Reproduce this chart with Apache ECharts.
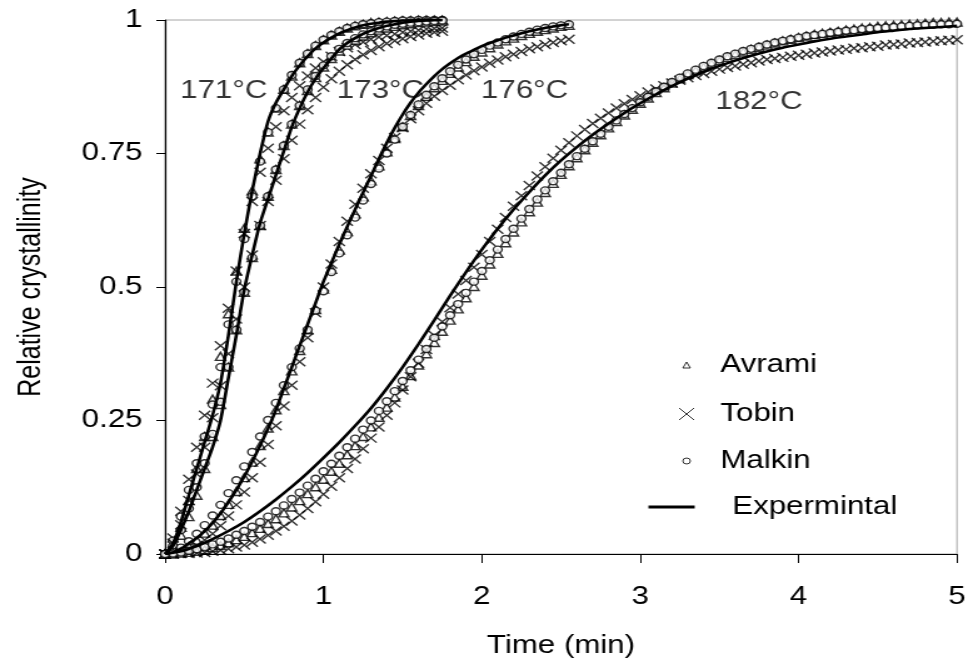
<!DOCTYPE html>
<html>
<head>
<meta charset="utf-8">
<title>Relative crystallinity vs time</title>
<script src="https://cdn.jsdelivr.net/npm/echarts@6/dist/echarts.min.js"></script>
<style>
  html, body { margin: 0; padding: 0; background: #fff; overflow: hidden; }
  #wrap { width: 973px; height: 664px; overflow: hidden; }
  /* the figure is laid out on a narrower canvas and widened horizontally */
  #chart { width: 778px; height: 664px; transform: scaleX(1.2506); transform-origin: 0 0; }
</style>
</head>
<body>
<div id="wrap"><div id="chart"></div></div>
<script>
// ---- time grids (min) ----
const timeFast = [0,0.05,0.1,0.15,0.2,0.25,0.3,0.35,0.4,0.45,0.5,0.55,0.6,0.65,0.7,0.75,0.8,0.85,0.9,0.95,
  1,1.05,1.1,1.15,1.2,1.25,1.3,1.35,1.4,1.45,1.5,1.55,1.6,1.65,1.7,1.75];
const time176 = [0,0.05,0.1,0.15,0.2,0.25,0.3,0.35,0.4,0.45,0.5,0.55,0.6,0.65,0.7,0.75,0.8,0.85,0.9,0.95,
  1,1.05,1.1,1.15,1.2,1.25,1.3,1.35,1.4,1.45,1.5,1.55,1.6,1.65,1.7,1.75,1.8,1.85,1.9,1.95,
  2,2.05,2.1,2.15,2.2,2.25,2.3,2.35,2.4,2.45,2.5,2.55];
const time182 = [0,0.05,0.1,0.15,0.2,0.25,0.3,0.35,0.4,0.45,0.5,0.55,0.6,0.65,0.7,0.75,0.8,0.85,0.9,0.95,
  1,1.05,1.1,1.15,1.2,1.25,1.3,1.35,1.4,1.45,1.5,1.55,1.6,1.65,1.7,1.75,1.8,1.85,1.9,1.95,
  2,2.05,2.1,2.15,2.2,2.25,2.3,2.35,2.4,2.45,2.5,2.55,2.6,2.65,2.7,2.75,2.8,2.85,2.9,2.95,
  3,3.05,3.1,3.15,3.2,3.25,3.3,3.35,3.4,3.45,3.5,3.55,3.6,3.65,3.7,3.75,3.8,3.85,3.9,3.95,
  4,4.05,4.1,4.15,4.2,4.25,4.3,4.35,4.4,4.45,4.5,4.55,4.6,4.65,4.7,4.75,4.8,4.85,4.9,4.95,5];
const time182Exp = [0,0.1,0.2,0.3,0.4,0.5,0.6,0.7,0.8,0.9,1,1.1,1.2,1.3,1.4,1.5,1.6,1.7,1.8,1.9,
  2,2.1,2.2,2.3,2.4,2.5,2.6,2.7,2.8,2.9,3,3.1,3.2,3.3,3.4,3.5,3.6,3.7,3.8,3.9,
  4,4.1,4.2,4.3,4.4,4.5,4.6,4.7,4.8,4.9,5];

// ---- 171 °C ----
const exp171 = [0,.02,.06,.11,.16,.21,.26,.32,.41,.51,.60,.68,.75,.81,.845,.87,.895,.915,.932,.947,
  .958,.967,.975,.981,.986,.99,.993,.995,.997,.998,.999,.999,1,1,1,1];
const avrami171 = [0,.015,.05,.10,.16,.22,.29,.37,.45,.53,.61,.68,.74,.79,.835,.87,.895,.92,.937,.952,
  .963,.972,.979,.985,.989,.992,.995,.996,.997,.998,.999,.999,1,1,1,1];
const tobin171 = [0,.03,.08,.14,.2,.26,.32,.39,.46,.53,.6,.66,.715,.76,.8,.83,.855,.877,.895,.91,
  .922,.932,.941,.948,.954,.959,.964,.968,.971,.974,.977,.979,.981,.983,.984,.985];
const malkin171 = [0,.025,.07,.12,.17,.22,.28,.35,.43,.51,.59,.67,.735,.79,.835,.87,.897,.92,.937,.952,
  .963,.972,.979,.985,.989,.992,.994,.996,.997,.998,.999,.999,1,1,1,1];

// ---- 173 °C ----
const exp173 = [0,.015,.045,.08,.12,.16,.2,.25,.33,.41,.495,.56,.62,.665,.71,.755,.8,.835,.865,.89,
  .91,.928,.945,.957,.966,.974,.98,.985,.989,.992,.995,.997,.998,.999,1,1];
const avrami173 = [0,.01,.035,.07,.11,.16,.22,.28,.35,.42,.49,.555,.615,.67,.72,.765,.805,.84,.868,.892,
  .912,.928,.942,.953,.962,.97,.976,.981,.985,.988,.991,.993,.995,.996,.997,.998];
const tobin173 = [0,.02,.055,.1,.15,.2,.255,.315,.375,.44,.5,.56,.615,.66,.7,.74,.775,.805,.832,.855,
  .874,.89,.904,.916,.926,.935,.943,.95,.956,.961,.965,.969,.972,.975,.977,.979];
const malkin173 = [0,.015,.045,.085,.125,.17,.225,.285,.35,.42,.49,.555,.615,.67,.72,.765,.805,.84,.87,.895,
  .915,.932,.946,.957,.966,.973,.979,.984,.988,.991,.993,.995,.996,.997,.998,.999];

// ---- 176 °C ----
const exp176 = [0,.003,.01,.02,.03,.043,.058,.076,.097,.12,.145,.173,.203,.235,.27,.31,.35,.39,.43,.47,
  .51,.545,.58,.613,.645,.677,.708,.74,.77,.798,.823,.845,.864,.88,.895,.908,.919,.929,.937,.944,
  .951,.957,.962,.967,.971,.975,.979,.982,.985,.988,.99,.992];
const avrami176 = [0,.002,.007,.015,.026,.039,.054,.072,.093,.117,.143,.172,.203,.236,.27,.306,.343,.381,.42,.458,
  .496,.533,.569,.604,.637,.669,.699,.727,.753,.778,.8,.821,.84,.857,.873,.887,.9,.912,.922,.932,
  .94,.948,.955,.961,.966,.971,.975,.979,.982,.985,.988,.99];
const tobin176 = [0,.001,.004,.009,.016,.026,.038,.053,.071,.092,.116,.143,.172,.205,.24,.277,.316,.36,.405,.452,
  .5,.543,.585,.623,.655,.685,.712,.737,.76,.78,.798,.815,.83,.844,.857,.868,.878,.888,.897,.905,
  .912,.919,.925,.931,.936,.941,.946,.95,.954,.958,.961,.964];
const malkin176 = [0,.004,.012,.024,.038,.054,.072,.092,.114,.138,.164,.191,.22,.251,.283,.316,.35,.385,.42,.456,
  .492,.528,.563,.597,.63,.662,.693,.722,.75,.776,.8,.822,.842,.86,.876,.891,.904,.916,.926,.936,
  .944,.952,.958,.964,.969,.974,.978,.982,.985,.988,.99,.992];

// ---- 182 °C ----
const exp182 = [0,.005,.015,.028,.043,.06,.08,.102,.126,.152,.18,.209,.24,.273,.31,.35,.393,.438,.484,.528,
  .57,.609,.645,.678,.709,.737,.762,.785,.806,.826,.844,.861,.876,.89,.903,.914,.924,.933,.941,.948,
  .954,.96,.965,.969,.973,.977,.98,.983,.985,.987,.989];
const avrami182 = [0,0,.002,.003,.005,.008,.012,.016,.021,.027,.033,.04,.048,.057,.066,.077,.088,.1,.113,.126,
  .14,.155,.17,.186,.203,.22,.238,.256,.275,.294,.314,.334,.354,.375,.396,.417,.438,.459,.48,.501,
  .522,.543,.563,.583,.603,.622,.641,.659,.677,.694,.711,.727,.742,.757,.771,.785,.798,.81,.822,.833,
  .844,.854,.864,.873,.882,.89,.898,.905,.912,.918,.924,.93,.935,.94,.945,.949,.953,.957,.961,.964,
  .967,.97,.973,.975,.977,.979,.981,.983,.985,.986,.988,.989,.99,.991,.992,.993,.994,.995,.995,.996,.996];
const tobin182 = [0,0,.001,.001,.002,.003,.005,.007,.01,.013,.017,.022,.028,.035,.043,.052,.062,.073,.085,.098,
  .112,.127,.143,.16,.178,.197,.217,.238,.26,.283,.307,.332,.357,.383,.409,.435,.461,.487,.512,.537,
  .561,.585,.608,.63,.651,.671,.69,.708,.725,.741,.756,.77,.783,.795,.806,.816,.826,.835,.843,.851,
  .858,.865,.871,.877,.882,.887,.892,.896,.9,.904,.908,.911,.914,.917,.92,.923,.926,.928,.93,.932,
  .934,.936,.938,.94,.942,.944,.945,.947,.948,.95,.951,.953,.954,.955,.957,.958,.959,.96,.961,.962,.963];
const malkin182 = [0,.001,.003,.006,.009,.013,.018,.023,.029,.036,.043,.051,.06,.07,.08,.091,.103,.115,.128,.141,
  .155,.169,.184,.2,.216,.233,.25,.268,.286,.305,.324,.344,.364,.384,.405,.426,.447,.468,.489,.51,
  .53,.55,.57,.59,.609,.628,.646,.664,.681,.698,.714,.73,.745,.759,.773,.787,.8,.812,.824,.835,
  .846,.856,.866,.875,.884,.892,.9,.907,.914,.92,.926,.932,.937,.942,.946,.95,.954,.958,.961,.964,
  .967,.97,.972,.974,.976,.978,.98,.981,.983,.984,.985,.986,.987,.988,.989,.99,.991,.991,.992,.992,.993];

// ---- isotherm annotations (time, relative crystallinity) ----
const isoNames = ['171°C', '173°C', '176°C', '182°C'];
const isoTime = [0.37, 1.36, 2.27, 3.75];
const isoValue = [0.867, 0.867, 0.867, 0.846];

// ---- axis ticks ----
const xTicks = [0, 1, 2, 3, 4, 5];
const yTicks = [0, 0.25, 0.5, 0.75, 1];

const FONT = '"Liberation Sans", Arial, Helvetica, sans-serif';
const zip = (ts, vs) => ts.map((t, i) => [t, vs[i]]);

const isotherms = [
  { time: timeFast, expTime: timeFast, exp: exp171, Avrami: avrami171, Tobin: tobin171, Malkin: malkin171 },
  { time: timeFast, expTime: timeFast, exp: exp173, Avrami: avrami173, Tobin: tobin173, Malkin: malkin173 },
  { time: time176, expTime: time176, exp: exp176, Avrami: avrami176, Tobin: tobin176, Malkin: malkin176 },
  { time: time182, expTime: time182Exp, exp: exp182, Avrami: avrami182, Tobin: tobin182, Malkin: malkin182 }
];

const CROSS = 'path://M0,0L10,10M10,0L0,10';
const models = {
  Avrami: { symbol: 'triangle', size: 8, fill: '#fff', legendSize: 6, textPad: 19 },
  Tobin:  { symbol: CROSS, size: 9, fill: 'rgba(0,0,0,0)', legendSize: 12, textPad: 16 },
  Malkin: { symbol: 'circle', size: 7, fill: '#fff', legendSize: 6, textPad: 19 }
};

const series = [];
isotherms.forEach(iso => {
  Object.keys(models).forEach(name => {
    const m = models[name];
    series.push({
      type: 'scatter', name: name,
      data: zip(iso.time, iso[name]),
      symbol: m.symbol, symbolSize: m.size,
      itemStyle: { color: m.fill, borderColor: '#000', borderWidth: 1.4 },
      z: 2
    });
  });
});
isotherms.forEach(iso => {
  series.push({
    type: 'line', name: 'Expermintal',
    data: zip(iso.expTime, iso.exp),
    symbol: 'none', smooth: 0.2,
    lineStyle: { color: '#000', width: 2.6 },
    z: 3
  });
});
series.push({
  type: 'scatter', name: 'Isotherm',
  data: isoNames.map((n, i) => ({ name: n, value: [isoTime[i], isoValue[i]] })),
  symbol: 'circle', symbolSize: 1,
  itemStyle: { color: 'rgba(0,0,0,0)' },
  silent: true, z: 5,
  label: { show: true, position: 'inside', formatter: p => p.name,
           color: '#000', fontSize: 25, fontFamily: FONT, textBorderWidth: 0 }
});

// legend rows: symbol centred at x≈548 (local), text starting at x≈576
const richText = pad => ({ t: { color: '#000', fontSize: 25, fontFamily: FONT, lineHeight: 26, padding: [0, 0, 0, pad] } });
const legends = [
  { name: 'Avrami', top: 352 },
  { name: 'Tobin', top: 401 },
  { name: 'Malkin', top: 448 }
].map(r => {
  const m = models[r.name];
  return {
    data: [r.name], left: 548.5 - m.legendSize / 2, top: r.top, padding: 0, selectedMode: false,
    itemWidth: m.legendSize, itemHeight: m.legendSize, symbolKeepAspect: true,
    itemStyle: { color: m.fill, borderColor: '#000', borderWidth: 1 },
    formatter: '{t|{name}}',
    textStyle: { color: '#000', fontSize: 25, fontFamily: FONT, lineHeight: 26, rich: richText(m.textPad) }
  };
});
legends.push({
  data: ['Expermintal'], left: 517, top: 494, padding: 0, selectedMode: false,
  itemWidth: 37, itemHeight: 14,
  lineStyle: { color: '#000', width: 3 },
  itemStyle: { color: 'rgba(0,0,0,0)', borderWidth: 0, opacity: 0 },
  formatter: '{t|{name}}',
  textStyle: { color: '#000', fontSize: 25, fontFamily: FONT, lineHeight: 26, rich: richText(25) }
});

const chart = echarts.init(document.getElementById('chart'));
chart.setOption({
  animation: false,
  backgroundColor: '#fff',
  textStyle: { fontFamily: FONT, color: '#000' },
  grid: { left: 132, right: 12.8, top: 20, bottom: 104, show: true,
          borderColor: '#a6a6a6', borderWidth: 1, backgroundColor: 'rgba(0,0,0,0)' },
  legend: legends,
  xAxis: {
    type: 'value', min: xTicks[0], max: xTicks[xTicks.length - 1], interval: xTicks[1] - xTicks[0],
    name: 'Time (min)', nameLocation: 'middle', nameGap: 80,
    nameTextStyle: { color: '#000', fontSize: 25, fontFamily: FONT },
    axisLine: { show: true, onZero: false, lineStyle: { color: '#000', width: 1.2 } },
    axisTick: { show: true, length: 9, lineStyle: { color: '#000', width: 1 } },
    axisLabel: { margin: 31, color: '#000', fontSize: 25, fontFamily: FONT },
    splitLine: { show: false }
  },
  yAxis: {
    type: 'value', min: yTicks[0], max: yTicks[yTicks.length - 1], interval: yTicks[1] - yTicks[0],
    name: 'Relative crystallinity', nameLocation: 'middle', nameGap: 94,
    nameTextStyle: { color: '#000', fontSize: 25, fontFamily: FONT },
    axisLine: { show: true, onZero: false, lineStyle: { color: '#000', width: 1.2 } },
    axisTick: { show: true, length: 7, lineStyle: { color: '#000', width: 1 } },
    axisLabel: { margin: 18, color: '#000', fontSize: 25, fontFamily: FONT },
    splitLine: { show: false }
  },
  series: series
});
</script>
</body>
</html>
